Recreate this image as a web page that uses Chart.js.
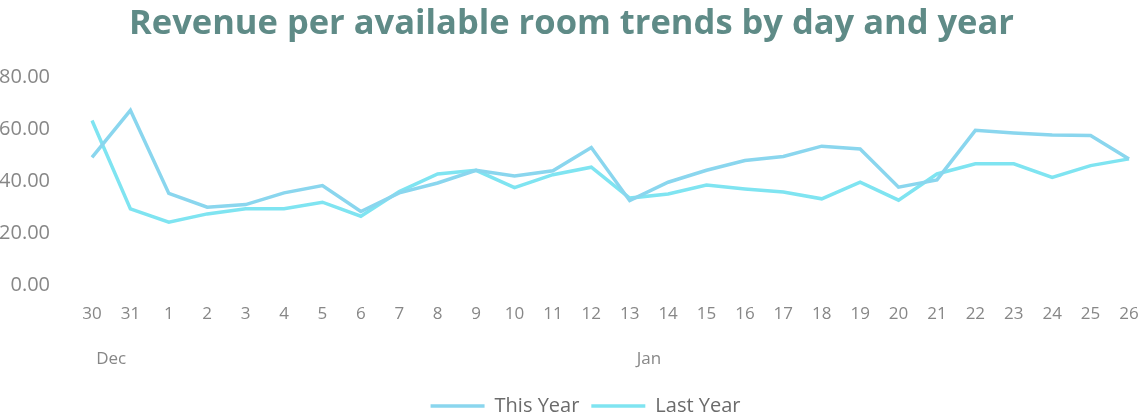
<!DOCTYPE html>
<html>
<head>
<meta charset="utf-8">
<title>RevPAR trends</title>
<script src="https://cdn.jsdelivr.net/npm/chart.js@4/dist/chart.umd.min.js"></script>
<style>
    html, body { margin: 0; padding: 0; background: #ffffff; }
    #wrap { width: 1143px; height: 419px; }
</style>
</head>
<body>
<div id="wrap"><canvas id="revparChart" width="1143" height="419"></canvas></div>
<script>
const days = ["30", "31", "1", "2", "3", "4", "5", "6", "7", "8", "9", "10", "11", "12", "13",
    "14", "15", "16", "17", "18", "19", "20", "21", "22", "23", "24", "25", "26"];

const thisYear = [49.2, 67.3, 35.3, 30.0, 31.0, 35.5, 38.3, 28.3, 35.5, 39.3, 44.2, 42.0, 44.0, 53.0,
    32.5, 39.6, 44.2, 48.0, 49.5, 53.5, 52.4, 37.7, 40.5, 59.6, 58.6, 57.8, 57.6, 48.6];

const lastYear = [63.4, 29.3, 24.2, 27.4, 29.4, 29.4, 31.9, 26.5, 36.0, 42.8, 44.2, 37.5, 42.5, 45.4,
    33.5, 35.1, 38.5, 37.0, 35.8, 33.2, 39.6, 32.7, 42.8, 46.7, 46.7, 41.5, 46.0, 48.6];

// month row under the day labels: name + first/last day index
const months = ["Dec", "Jan"];
const monthStart = [0, 2];
const monthEnd = [1, 27];

const yTicks = [0, 20, 40, 60, 80];

const FONT = "'Open Sans', sans-serif";
const TICK_GREY = "#878787";


/* ---------- MONTH LABELS ---------- */
const monthRow = {
    id: "monthRow",
    afterDraw(chart) {
        const x = chart.scales.x;
        const ctx = chart.ctx;
        ctx.save();
        ctx.font = "17px " + FONT;
        ctx.fillStyle = TICK_GREY;
        ctx.textAlign = "center";
        ctx.textBaseline = "middle";
        months.forEach((m, i) => {
            const cx = (x.getPixelForValue(monthStart[i]) + x.getPixelForValue(monthEnd[i])) / 2;
            ctx.fillText(m, cx, chart.chartArea.bottom + 74);
        });
        ctx.restore();
    }
};

/* ---------- TITLE / LEGEND NUDGE ---------- */
// title is centred on the page, legend sits a bit right of it
const blockShift = {
    id: "blockShift",
    afterLayout(chart) {
        chart.titleBlock.left += 7;
        chart.titleBlock.right += 7;
        chart.legend.left += 21;
        chart.legend.right += 21;
    }
};


/* ---------- CHART ---------- */
function drawChart() {
    const ctx = document.getElementById("revparChart");

    new Chart(ctx, {
        type: "line",
        data: {
            labels: days,
            datasets: [{
                label: "This Year",
                data: thisYear,
                borderColor: "#8ad6ee",
                backgroundColor: "#8ad6ee",
                borderWidth: 3.5,
                pointRadius: 0,
                tension: 0
            }, {
                label: "Last Year",
                data: lastYear,
                borderColor: "#7fe4f1",
                backgroundColor: "#7fe4f1",
                borderWidth: 3.5,
                pointRadius: 0,
                tension: 0
            }]
        },
        options: {
            responsive: false,
            animation: false,
            layout: { padding: { left: 0, right: 14, top: 0, bottom: -7 } },
            plugins: {
                title: {
                    display: true,
                    text: "Revenue per available room trends by day and year",
                    color: "#5f8b87",
                    font: { family: FONT, size: 34.5, weight: "bold" },
                    padding: { top: 3, bottom: 33 }
                },
                legend: {
                    position: "bottom",
                    labels: {
                        usePointStyle: true,
                        pointStyle: "line",
                        pointStyleWidth: 54,
                        padding: 12,
                        color: "#6b6b6b",
                        font: { family: FONT, size: 20 }
                    }
                },
                tooltip: { enabled: false }
            },
            scales: {
                x: {
                    offset: false,
                    grid: { display: false, drawTicks: false },
                    border: { display: false },
                    ticks: {
                        color: TICK_GREY,
                        font: { family: FONT, size: 17 },
                        padding: 19,
                        maxRotation: 0,
                        autoSkip: false
                    },
                    afterFit(scale) {
                        scale.height = 99;
                        scale.paddingLeft = 0;
                        scale.paddingRight = 0;
                    }
                },
                y: {
                    min: yTicks[0],
                    max: yTicks[yTicks.length - 1],
                    grid: { display: false, drawTicks: false },
                    border: { display: false },
                    ticks: {
                        stepSize: yTicks[1] - yTicks[0],
                        color: TICK_GREY,
                        font: { family: FONT, size: 20 },
                        padding: 42,
                        callback: (v) => v.toFixed(2)
                    },
                    afterFit(scale) { scale.width = 92; }
                }
            }
        },
        plugins: [monthRow, blockShift]
    });
}

drawChart();
</script>
</body>
</html>
